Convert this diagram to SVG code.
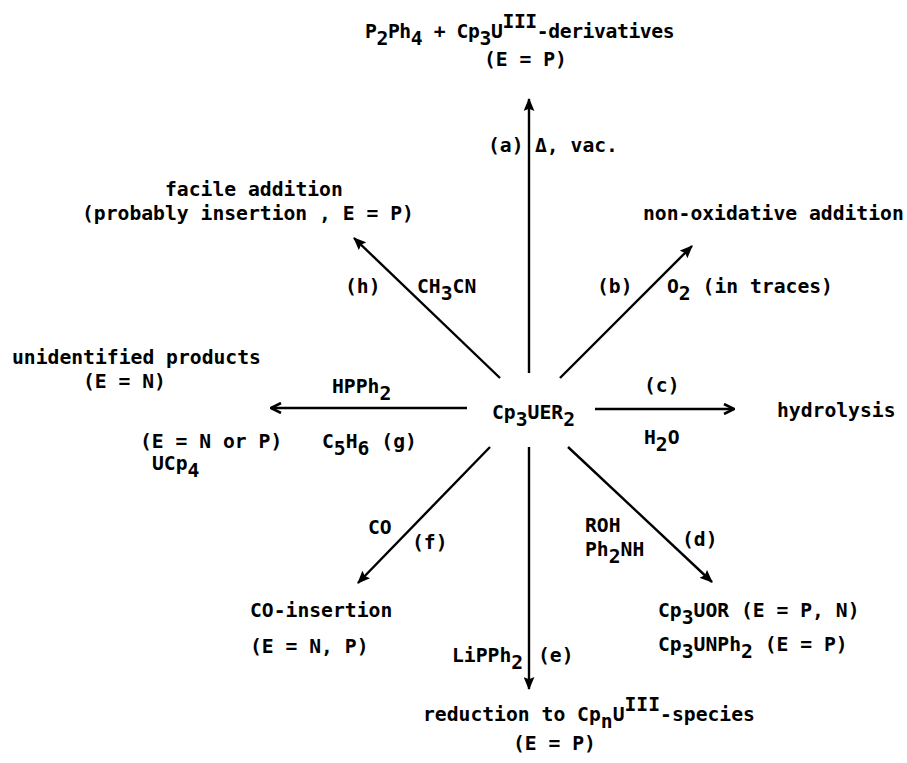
<svg xmlns="http://www.w3.org/2000/svg" width="907" height="763" viewBox="0 0 907 763">
<style>
text{font-family:"DejaVu Sans Mono","Liberation Mono",monospace;font-size:19.7px;font-weight:bold;fill:#000}
.ln{stroke:#000;stroke-width:2.4;fill:none}
</style>
<defs>
<marker id="fh" viewBox="0 0 12 10" refX="11" refY="5" markerWidth="13" markerHeight="11" orient="auto" markerUnits="userSpaceOnUse">
<path d="M0,0 L12,5 L0,10 L2,5 z" fill="#000"/>
</marker>
<marker id="oh" viewBox="0 0 12 12" refX="11" refY="6" markerWidth="12" markerHeight="12" orient="auto" markerUnits="userSpaceOnUse">
<path d="M1,1 L11,6 L1,11" fill="none" stroke="#000" stroke-width="2.6"/>
</marker>
</defs>
<rect width="907" height="763" fill="#fff"/>
<g id="connectors">
<line class="ln" x1="529" y1="373" x2="529" y2="99" marker-end="url(#fh)"/>
<line class="ln" x1="500" y1="378" x2="354" y2="238" marker-end="url(#fh)"/>
<line class="ln" x1="560" y1="378" x2="692" y2="246" marker-end="url(#fh)"/>
<line class="ln" x1="595" y1="409" x2="734" y2="409" marker-end="url(#oh)"/>
<line class="ln" x1="467" y1="408" x2="271" y2="408" marker-end="url(#oh)"/>
<line class="ln" x1="490" y1="447" x2="358" y2="583" marker-end="url(#fh)"/>
<line class="ln" x1="529" y1="447" x2="529" y2="689" marker-end="url(#fh)"/>
<line class="ln" x1="568" y1="447" x2="712" y2="582" marker-end="url(#fh)"/>
</g>
<g id="center"><text x="492" y="419">Cp<tspan dy="7">3</tspan><tspan dy="-7">UER</tspan><tspan dy="7">2</tspan></text></g>
<g id="node-a">
<text x="365" y="38" letter-spacing="-0.4">P<tspan dy="7">2</tspan><tspan dy="-7">Ph</tspan><tspan dy="7">4</tspan><tspan dy="-7"> + Cp</tspan><tspan dy="7">3</tspan><tspan dy="-7">U</tspan><tspan dy="-10">III</tspan><tspan dy="10">-derivatives</tspan></text>
<text x="484" y="66">(E = P)</text>
</g>
<g id="label-a"><text x="488" y="152">(a)</text><text x="535" y="152">Δ, vac.</text></g>
<g id="node-h">
<text x="165" y="196">facile addition</text>
<text x="82" y="220">(probably insertion , E = P)</text>
</g>
<g id="label-h"><text x="345" y="293">(h)</text><text x="417" y="293">CH<tspan dy="7">3</tspan><tspan dy="-7">CN</tspan></text></g>
<g id="node-b"><text x="643" y="220">non-oxidative addition</text></g>
<g id="label-b"><text x="597" y="293">(b)</text><text x="667" y="293">O<tspan dy="7">2</tspan><tspan dy="-7"> (in traces)</tspan></text></g>
<g id="node-g">
<text x="12" y="364">unidentified products</text>
<text x="83" y="388">(E = N)</text>
<text x="140" y="448">(E = N or P)</text>
<text x="152" y="470">UCp<tspan dy="7">4</tspan></text>
</g>
<g id="label-g"><text x="332" y="393">HPPh<tspan dy="7">2</tspan></text><text x="322" y="448">C<tspan dy="7">5</tspan><tspan dy="-7">H</tspan><tspan dy="7">6</tspan><tspan dy="-7"> (g)</tspan></text></g>
<g id="node-c"><text x="777" y="417">hydrolysis</text></g>
<g id="label-c"><text x="644" y="392">(c)</text><text x="644" y="444">H<tspan dy="7">2</tspan><tspan dy="-7">O</tspan></text></g>
<g id="node-f">
<text x="250" y="617">CO-insertion</text>
<text x="250" y="653">(E = N, P)</text>
</g>
<g id="label-f"><text x="368" y="534">CO</text><text x="412" y="549">(f)</text></g>
<g id="node-d">
<text x="658" y="617">Cp<tspan dy="7">3</tspan><tspan dy="-7">UOR (E = P, N)</tspan></text>
<text x="658" y="651">Cp<tspan dy="7">3</tspan><tspan dy="-7">UNPh</tspan><tspan dy="7">2</tspan><tspan dy="-7"> (E = P)</tspan></text>
</g>
<g id="label-d"><text x="585" y="532">ROH</text><text x="585" y="556">Ph<tspan dy="7">2</tspan><tspan dy="-7">NH</tspan></text><text x="682" y="546">(d)</text></g>
<g id="node-e">
<text x="423" y="721">reduction to Cp<tspan dy="7">n</tspan><tspan dy="-7">U</tspan><tspan dy="-10">III</tspan><tspan dy="10">-species</tspan></text>
<text x="513" y="750">(E = P)</text>
</g>
<g id="label-e"><text x="452" y="662">LiPPh<tspan dy="7">2</tspan></text><text x="538" y="662">(e)</text></g>
</svg>
